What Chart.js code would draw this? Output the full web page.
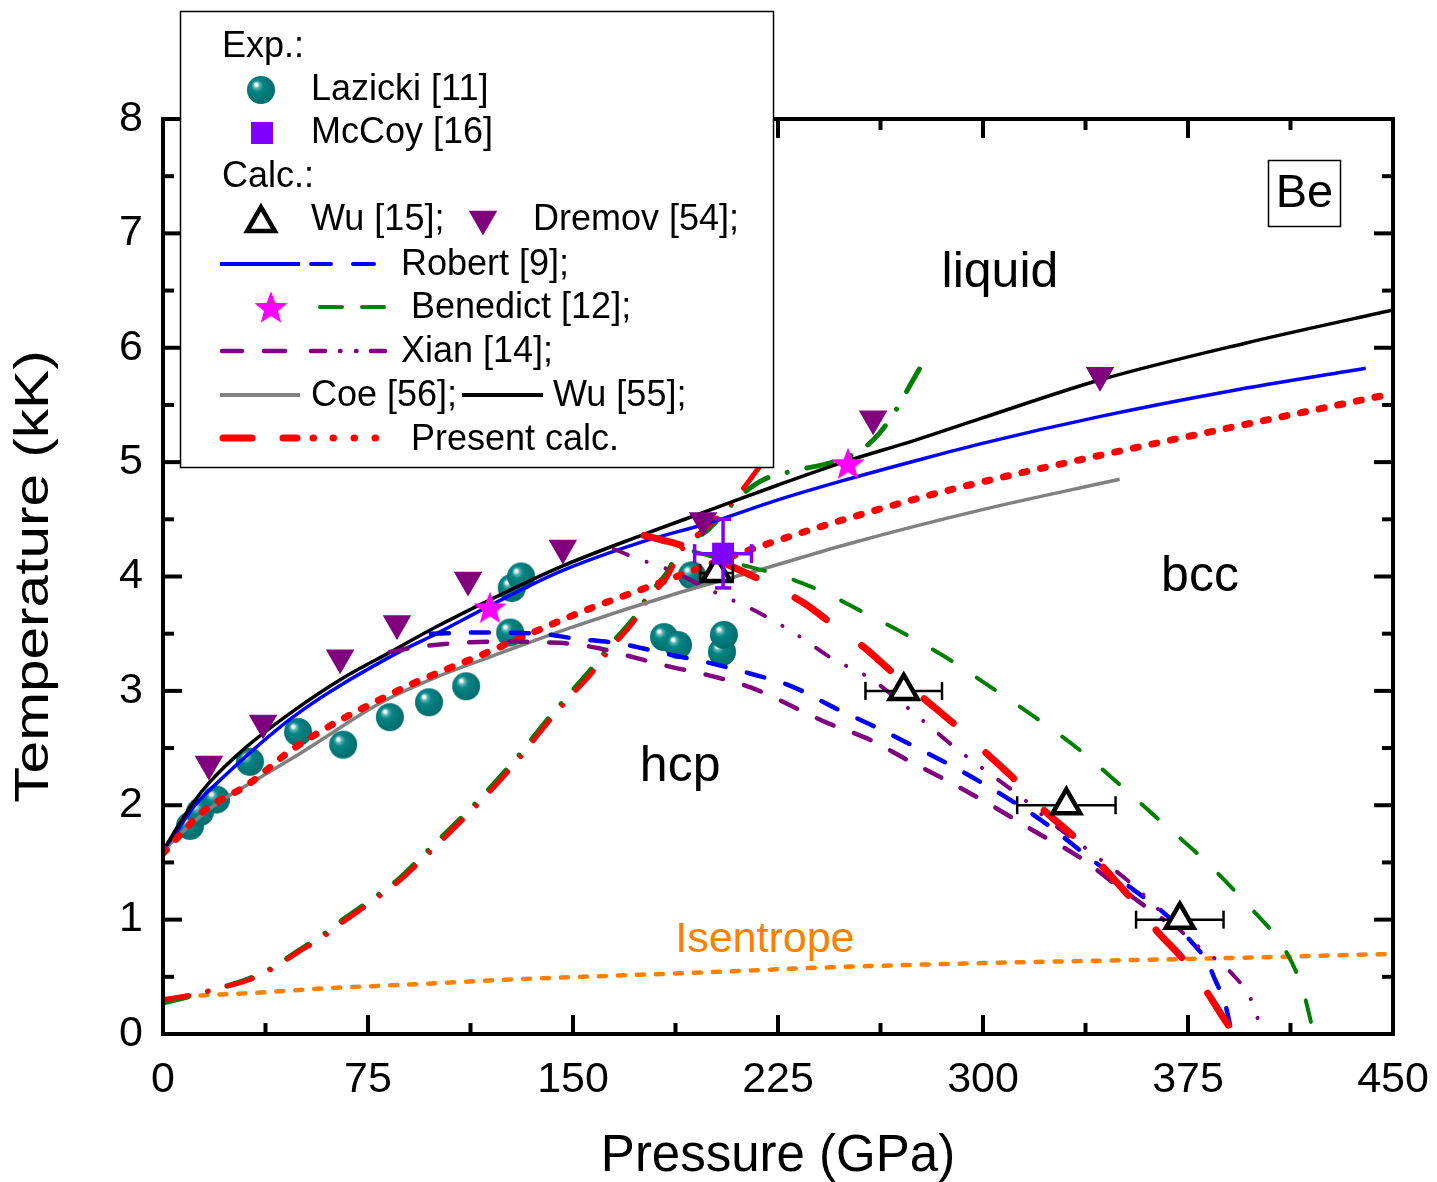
<!DOCTYPE html>
<html>
<head>
<meta charset="utf-8">
<script src="https://cdn.jsdelivr.net/npm/chart.js@4.4.1/dist/chart.umd.min.js"></script>
<style>
  html, body { margin: 0; padding: 0; background: #fff; }
  #wrap { width: 1437px; height: 1182px; }
</style>
</head>
<body>
<div id="wrap"><canvas id="c" width="1437" height="1182"></canvas></div>
<script>
// axis ranges
const pressureRange = [0, 450];
const temperatureRange = [0, 8];

// experiments
const lazickiP = [9.9, 13.5, 19.4, 31.8, 49.4, 65.9, 83, 97.3, 110.9, 127, 127.6, 131, 183.3, 188.4, 204.5, 205.2, 193.5];
const lazickiT = [1.82, 1.94, 2.05, 2.38, 2.64, 2.53, 2.77, 2.9, 3.04, 3.51, 3.9, 4.0, 3.47, 3.4, 3.34, 3.49, 4.01];
const mccoyP = [204.9];
const mccoyT = [4.2];
const mccoyPErr = [10.4];
const mccoyTErr = [0.3];

// calculations, points
const wu15P = [202.5, 271, 330.5, 372];
const wu15T = [4.03, 3, 2, 1];
const wu15PErr = [6, 14, 18, 16];
const dremovP = [16.8, 36.6, 64.8, 85.6, 111.6, 146.3, 197.6, 259.8, 342.8];
const dremovT = [2.36, 2.72, 3.29, 3.59, 3.97, 4.25, 4.49, 5.38, 5.76];
const benedictStarP = [119.6, 250.6];
const benedictStarT = [3.73, 4.99];

// calculations, curves
const wu55P = [0, 5, 11, 17, 30, 48, 65, 84, 100, 120, 145, 175, 200, 225, 249, 275, 299, 343, 396, 450];
const wu55T = [1.6, 1.8, 2.02, 2.2, 2.5, 2.83, 3.1, 3.35, 3.56, 3.8, 4.08, 4.36, 4.58, 4.8, 5.0, 5.19, 5.38, 5.72, 6.04, 6.33];
const robertMeltP = [0, 5, 11, 20, 48, 84, 100, 120, 145, 175, 200, 225, 249, 275, 299, 343, 390, 440];
const robertMeltT = [1.6, 1.77, 1.98, 2.2, 2.78, 3.31, 3.5, 3.75, 4.04, 4.3, 4.47, 4.67, 4.84, 5.01, 5.16, 5.4, 5.62, 5.82];
const coeP = [0, 10, 20, 36, 50, 80, 100, 120, 150, 189, 220, 250, 299, 350];
const coeT = [1.6, 1.83, 2.02, 2.25, 2.45, 2.9, 3.12, 3.3, 3.56, 3.86, 4.07, 4.28, 4.58, 4.85];
const presentMeltP = [0, 15, 31, 48, 84, 120, 152, 180, 218, 248, 290, 343, 400, 450];
const presentMeltT = [1.58, 1.95, 2.18, 2.5, 2.98, 3.35, 3.68, 3.93, 4.26, 4.49, 4.77, 5.06, 5.35, 5.6];
const robertHcpBccP = [98, 115, 138, 150, 168, 183, 199, 215, 230, 245, 261, 276, 292, 307, 323, 340, 354, 368, 375, 382, 385, 388.5, 390, 391];
const robertHcpBccT = [3.5, 3.51, 3.5, 3.46, 3.41, 3.33, 3.25, 3.15, 3.04, 2.86, 2.68, 2.5, 2.3, 2.09, 1.84, 1.52, 1.28, 1.02, 0.84, 0.63, 0.47, 0.27, 0.12, 0];
const xianDashP = [83, 92, 103, 120, 145, 160, 168, 184, 199, 215, 243, 258, 272, 288, 303, 319, 335, 350, 366];
const xianDashT = [3.34, 3.38, 3.41, 3.43, 3.42, 3.37, 3.32, 3.22, 3.14, 3.03, 2.72, 2.58, 2.4, 2.2, 2.0, 1.77, 1.55, 1.28, 1.0];
const xianDashDotP = [165, 172, 185, 203, 215, 230, 245, 258, 270, 280, 290, 300, 313, 325, 340, 355, 368, 378, 391, 399, 402];
const xianDashDotT = [4.24, 4.17, 4.06, 3.85, 3.72, 3.52, 3.28, 3.12, 2.9, 2.7, 2.5, 2.32, 2.09, 1.85, 1.58, 1.3, 1.0, 0.78, 0.53, 0.25, 0];
const benedictHcpBccP = [176, 182, 197, 212, 226, 242, 256, 272, 288, 303, 319, 335, 350, 365, 381, 396, 409, 415, 418, 421];
const benedictHcpBccT = [4.36, 4.31, 4.2, 4.1, 4.01, 3.86, 3.69, 3.49, 3.27, 3.03, 2.77, 2.49, 2.18, 1.86, 1.52, 1.15, 0.79, 0.52, 0.3, 0];
const presentHcpBccP = [176, 190, 205, 222, 235, 244, 257, 266, 279, 289, 301, 311, 323, 334, 345, 354, 364, 373, 381, 388, 392];
const presentHcpBccT = [4.36, 4.27, 4.12, 3.93, 3.76, 3.6, 3.37, 3.18, 2.92, 2.72, 2.46, 2.24, 1.94, 1.71, 1.43, 1.19, 0.89, 0.66, 0.4, 0.14, 0];
const presentHugP = [0, 10, 22, 31, 40, 49, 58, 67, 76, 86, 95, 104, 112, 120, 130, 140, 149, 157, 164, 172, 178, 184, 190, 200, 210, 218];
const presentHugT = [0.3, 0.34, 0.41, 0.47, 0.57, 0.71, 0.84, 1.0, 1.15, 1.33, 1.53, 1.74, 1.93, 2.13, 2.4, 2.7, 2.95, 3.16, 3.38, 3.6, 3.82, 3.98, 4.24, 4.45, 4.7, 4.95];
const benedictHugP = [0, 10, 22, 31, 40, 49, 58, 67, 76, 86, 95, 104, 112, 120, 130, 140, 149, 157, 164, 172, 178, 184, 190, 199, 205, 212, 220, 232, 245, 255, 262, 268, 274, 280];
const benedictHugT = [0.27, 0.33, 0.41, 0.48, 0.58, 0.72, 0.86, 1.02, 1.17, 1.35, 1.56, 1.77, 1.96, 2.16, 2.43, 2.73, 2.98, 3.2, 3.41, 3.63, 3.85, 4.02, 4.27, 4.4, 4.55, 4.72, 4.85, 4.93, 5.0, 5.1, 5.25, 5.45, 5.7, 5.95];
const isentropeP = [0, 5, 11, 34, 60, 97, 121, 153, 200, 240, 300, 382, 450];
const isentropeT = [0.28, 0.31, 0.33, 0.36, 0.4, 0.44, 0.47, 0.5, 0.54, 0.58, 0.62, 0.66, 0.7];

const family = "'Liberation Sans', Arial, Helvetica, sans-serif";
const pts = (xs, ys) => xs.map((x, i) => ({ x: x, y: ys[i] }));

// teal sphere marker
function makeSphere(r) {
    const c = document.createElement('canvas');
    c.width = c.height = 2 * r + 2;
    const g = c.getContext('2d');
    const cx = r + 1, cy = r + 1;
    const grad = g.createRadialGradient(cx - r * 0.38, cy - r * 0.42, 0, cx - r * 0.1, cy - r * 0.1, r * 1.05);
    grad.addColorStop(0, '#ffffff');
    grad.addColorStop(0.1, '#e8f6f6');
    grad.addColorStop(0.22, '#5cb3b3');
    grad.addColorStop(0.4, '#0a8585');
    grad.addColorStop(1, '#006e6e');
    g.fillStyle = grad;
    g.beginPath();
    g.arc(cx, cy, r, 0, Math.PI * 2);
    g.fill();
    return c;
}

// filled five point star
function makeStar(size, color) {
    const c = document.createElement('canvas');
    c.width = c.height = size;
    const g = c.getContext('2d');
    const R = size / 2 - 0.5, r = R * 0.42;
    const cx = size / 2, cy = size / 2 + R * 0.095;
    g.beginPath();
    for (let i = 0; i < 10; i++) {
        const a = -Math.PI / 2 + i * Math.PI / 5;
        const rad = i % 2 ? r : R;
        g.lineTo(cx + rad * Math.cos(a), cy + rad * Math.sin(a));
    }
    g.closePath();
    g.fillStyle = color;
    g.fill();
    return c;
}

const sphereImg = makeSphere(14);
const starImg = makeStar(36, '#ff00ff');

const lineDs = (xs, ys, color, width, dash, order) => ({
    data: pts(xs, ys),
    showLine: true,
    borderColor: color,
    borderWidth: width,
    borderDash: dash,
    borderCapStyle: dash.length ? 'round' : 'butt',
    borderJoinStyle: 'round',
    pointRadius: 0,
    pointHoverRadius: 0,
    fill: false,
    cubicInterpolationMode: 'monotone',
    order: order
});

// error bars drawn just before their dataset
const errorBars = {
    id: 'errorBars',
    beforeDatasetDraw(chart, args) {
        const ds = chart.data.datasets[args.index];
        if (!ds.errors) return;
        const { ctx } = chart;
        const xs = chart.scales.x, ys = chart.scales.y;
        ctx.save();
        ctx.strokeStyle = ds.errorColor;
        ctx.lineWidth = ds.errorWidth;
        const seg = (a, b, c, d) => { ctx.beginPath(); ctx.moveTo(a, b); ctx.lineTo(c, d); ctx.stroke(); };
        ds.data.forEach((p, i) => {
            const e = ds.errors[i];
            const px = xs.getPixelForValue(p.x), py = ys.getPixelForValue(p.y);
            if (e.x) {
                const l = xs.getPixelForValue(p.x - e.x), r = xs.getPixelForValue(p.x + e.x);
                seg(l, py, r, py);
                seg(l, py - ds.capSize, l, py + ds.capSize);
                seg(r, py - ds.capSize, r, py + ds.capSize);
            }
            if (e.y) {
                const t = ys.getPixelForValue(p.y + e.y), b = ys.getPixelForValue(p.y - e.y);
                seg(px, t, px, b);
                seg(px - ds.capSize * 0.85, t, px + ds.capSize * 0.85, t);
                seg(px - ds.capSize * 0.85, b, px + ds.capSize * 0.85, b);
            }
        });
        ctx.restore();
    }
};

// frame with inward ticks on all four sides
const frame = {
    id: 'frame',
    afterDatasetsDraw(chart) {
        const { ctx, chartArea: a } = chart;
        const xs = chart.scales.x, ys = chart.scales.y;
        ctx.save();
        ctx.strokeStyle = '#000';
        ctx.lineWidth = 4;
        ctx.lineCap = 'butt';
        const seg = (x1, y1, x2, y2) => { ctx.beginPath(); ctx.moveTo(x1, y1); ctx.lineTo(x2, y2); ctx.stroke(); };
        for (let v = pressureRange[0]; v <= pressureRange[1] + 0.01; v += 37.5) {
            const len = (v % 75 === 0) ? 19 : 11;
            const px = xs.getPixelForValue(v);
            seg(px, a.bottom, px, a.bottom - len);
            seg(px, a.top, px, a.top + len);
        }
        for (let v = temperatureRange[0]; v <= temperatureRange[1] + 0.01; v += 0.5) {
            const len = (v % 1 === 0) ? 19 : 11;
            const py = ys.getPixelForValue(v);
            seg(a.left, py, a.left + len, py);
            seg(a.right, py, a.right - len, py);
        }
        ctx.strokeRect(a.left, a.top, a.right - a.left, a.bottom - a.top);
        ctx.restore();
    }
};

// phase labels, y title, Be box and the legend
const annotations = {
    id: 'annotations',
    afterDraw(chart) {
        const { ctx, chartArea: a } = chart;
        const xs = chart.scales.x, ys = chart.scales.y;
        const H = Chart.helpers;
        ctx.save();
        ctx.textBaseline = 'middle';
        ctx.textAlign = 'center';
        ctx.fillStyle = '#000';
        ctx.font = '50px ' + family;
        ctx.fillText('liquid', xs.getPixelForValue(306.2), ys.getPixelForValue(6.65));
        ctx.fillText('bcc', xs.getPixelForValue(379.4), ys.getPixelForValue(3.99));
        ctx.fillText('hcp', xs.getPixelForValue(189.2), ys.getPixelForValue(2.33));
        ctx.fillStyle = '#ff8000';
        ctx.font = '43px ' + family;
        ctx.fillText('Isentrope', xs.getPixelForValue(220.2), ys.getPixelForValue(0.82));

        // y axis title, stretched along its length like the original
        ctx.save();
        ctx.fillStyle = '#000';
        ctx.font = '48px ' + family;
        ctx.translate(35, (a.top + a.bottom) / 2);
        ctx.rotate(-Math.PI / 2);
        ctx.scale(1.22, 1);
        ctx.fillText('Temperature (kK)', 0, 0);
        ctx.restore();

        // Be box
        ctx.fillStyle = '#000';
        ctx.strokeStyle = '#000';
        ctx.lineWidth = 1.5;
        ctx.strokeRect(1268.5, 160.5, 72, 66);
        ctx.font = '47px ' + family;
        ctx.fillText('Be', 1304.5, 194);

        // legend box
        ctx.fillStyle = '#fff';
        ctx.fillRect(180.5, 11.5, 593, 456);
        ctx.strokeStyle = '#000';
        ctx.lineWidth = 1.5;
        ctx.strokeRect(180.5, 11.5, 593, 456);

        ctx.textAlign = 'left';
        ctx.fillStyle = '#000';
        ctx.font = '36px ' + family;
        const txt = (s, x, y) => ctx.fillText(s, x, y);
        txt('Exp.:', 222, 47);
        txt('Lazicki [11]', 311, 90);
        txt('McCoy [16]', 311, 133);
        txt('Calc.:', 222, 177);
        txt('Wu [15];', 311, 220);
        txt('Dremov [54];', 533, 220);
        txt('Robert [9];', 401, 265);
        txt('Benedict [12];', 411, 308);
        txt('Xian [14];', 401, 352);
        txt('Coe [56];', 311, 396);
        txt('Wu [55];', 553, 396);
        txt('Present calc.', 411, 440);

        ctx.drawImage(sphereImg, 261 - sphereImg.width / 2, 90 - sphereImg.height / 2);
        ctx.fillStyle = '#8000ff';
        ctx.fillRect(251, 122, 22, 22);
        ctx.drawImage(starImg, 271 - 18, 307 - 18);

        ctx.fillStyle = '#fff';
        ctx.strokeStyle = '#000';
        ctx.lineWidth = 4.5;
        H.drawPoint(ctx, { pointStyle: 'triangle', radius: 16, rotation: 0, borderWidth: 4.5 }, 261, 223);
        ctx.fillStyle = '#800080';
        ctx.strokeStyle = '#800080';
        ctx.lineWidth = 0.1;
        H.drawPoint(ctx, { pointStyle: 'triangle', radius: 16.5, rotation: 180, borderWidth: 0 }, 483, 219);

        const stroke = (color, w, cap, segs, y) => {
            ctx.strokeStyle = color;
            ctx.lineWidth = w;
            ctx.lineCap = cap;
            segs.forEach(s => {
                ctx.beginPath();
                ctx.moveTo(s[0], y);
                ctx.lineTo(s[1], y);
                ctx.stroke();
            });
        };
        stroke('#0000ff', 4, 'butt', [[220, 300]], 264);
        stroke('#0000ff', 4, 'round', [[311, 331], [353, 374]], 264);
        stroke('#008000', 4, 'round', [[320, 342], [362, 384]], 307);
        stroke('#800080', 4.5, 'round', [[222, 242], [264, 285], [311, 325], [340, 340.5], [356, 356.5], [371, 385]], 351);
        stroke('#808080', 4, 'butt', [[220, 300]], 395);
        stroke('#000000', 4, 'butt', [[462, 543]], 395);
        stroke('#ff0000', 7, 'round', [[223, 252], [283, 297], [313, 313.5], [333, 333.5], [354, 354.5], [375, 375.5]], 438);
        ctx.restore();
    }
};

new Chart(document.getElementById('c'), {
    type: 'line',
    data: {
        datasets: [
            // markers
            { data: pts(lazickiP, lazickiT), showLine: false, pointStyle: sphereImg, pointRadius: 14, order: 30 },
            { data: pts(dremovP, dremovT), showLine: false, pointStyle: 'triangle', rotation: 180, pointRadius: 16.5,
              pointBackgroundColor: '#800080', pointBorderColor: '#800080', pointBorderWidth: 0, order: 5 },
            { data: pts(benedictStarP, benedictStarT), showLine: false, pointStyle: starImg, pointRadius: 18, order: 4 },
            { data: pts(wu15P, wu15T), showLine: false, pointStyle: 'triangle', pointRadius: 16,
              pointBackgroundColor: '#fff', pointBorderColor: '#000', pointBorderWidth: 4.5, order: 3,
              errors: wu15PErr.map(e => ({ x: e })), errorColor: '#000', errorWidth: 2.5, capSize: 9 },
            { data: pts(mccoyP, mccoyT), showLine: false, pointStyle: 'rect', pointRadius: 15.5,
              pointBackgroundColor: '#8000ff', pointBorderColor: '#8000ff', pointBorderWidth: 0, order: 1,
              errors: mccoyPErr.map((e, i) => ({ x: e, y: mccoyTErr[i] })), errorColor: '#8000ff', errorWidth: 3.5, capSize: 9.5 },
            // curves
            lineDs(isentropeP, isentropeT, '#ff8000', 4.5, [7, 12], 26),
            lineDs(benedictHugP, benedictHugT, '#008000', 5, [26, 20, 0.1, 20], 25),
            lineDs(presentHugP, presentHugT, '#ff0000', 5, [26, 20, 0.1, 20], 24),
            lineDs(coeP, coeT, '#808080', 3.5, [], 23),
            lineDs(robertMeltP, robertMeltT, '#0000ff', 3.5, [], 22),
            lineDs(wu55P, wu55T, '#000000', 3.5, [], 21),
            lineDs(presentMeltP, presentMeltT, '#ff0000', 7, [5, 14], 20),
            lineDs(robertHcpBccP, robertHcpBccT, '#0000ff', 4.5, [18, 22], 19),
            lineDs(xianDashP, xianDashT, '#800080', 4.5, [18, 22], 18),
            lineDs(xianDashDotP, xianDashDotT, '#800080', 4, [15, 20, 0.1, 20, 0.1, 20], 17),
            lineDs(benedictHcpBccP, benedictHcpBccT, '#008000', 4, [22, 30], 16),
            lineDs(presentHcpBccP, presentHcpBccT, '#ff0000', 7, [38, 44], 15)
        ]
    },
    options: {
        responsive: false,
        animation: false,
        devicePixelRatio: 1,
        layout: { padding: { top: 119, right: 44, left: 0, bottom: 0 } },
        plugins: { legend: { display: false }, tooltip: { enabled: false } },
        events: [],
        scales: {
            x: {
                type: 'linear',
                min: pressureRange[0],
                max: pressureRange[1],
                afterFit: s => { s.height = 148; s.paddingLeft = 0; s.paddingRight = 0; },
                grid: { display: false, drawTicks: false },
                border: { display: false },
                ticks: { stepSize: 75, font: { size: 43, family: family }, color: '#000', padding: 20, maxRotation: 0, autoSkip: false },
                title: { display: true, text: 'Pressure (GPa)', color: '#000',
                         font: { size: 51, family: family, lineHeight: 1 }, padding: { top: 0, bottom: 0 } }
            },
            y: {
                type: 'linear',
                min: temperatureRange[0],
                max: temperatureRange[1],
                afterFit: s => { s.width = 163; s.paddingTop = 0; s.paddingBottom = 0; },
                grid: { display: false, drawTicks: false },
                border: { display: false },
                ticks: { stepSize: 1, font: { size: 43, family: family }, color: '#000', padding: 20 },
                title: { display: false }
            }
        }
    },
    plugins: [errorBars, frame, annotations]
});
</script>
</body>
</html>
